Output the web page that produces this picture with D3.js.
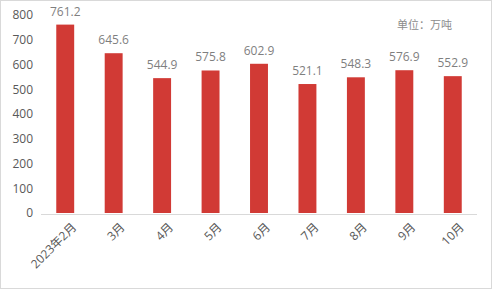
<!DOCTYPE html>
<html>
<head>
<meta charset="utf-8">
<script src="https://cdn.jsdelivr.net/npm/d3@7"></script>
<style>
  body { margin: 0; background: #fff; }
  svg { display: block; font-family: "Open Sans", "Noto Sans CJK SC", sans-serif; }
  .tick-label { fill: #595959; font-size: 12px; }
  .val-label { fill: #7f7f7f; font-size: 12px; }
  .unit { fill: #8c8c8c; font-size: 11px; }
</style>
</head>
<body>
<div id="chart"></div>
<script>
// data
var months = ["2023年2月", "3月", "4月", "5月", "6月", "7月", "8月", "9月", "10月"];
var values = [761.2, 645.6, 544.9, 575.8, 602.9, 521.1, 548.3, 576.9, 552.9];
var yTicks = [0, 100, 200, 300, 400, 500, 600, 700, 800];
var unitText = "单位：万吨";

var W = 492, H = 289;

var svg = d3.select("#chart").append("svg")
  .attr("width", W)
  .attr("height", H);

// outer border
svg.append("rect")
  .attr("x", 0.5).attr("y", 0.5)
  .attr("width", W - 1).attr("height", H - 1)
  .attr("fill", "#fff")
  .attr("stroke", "#d9d9d9");

var x = d3.scaleBand()
  .domain(months)
  .range([41, 477])
  .paddingInner(0.63)
  .paddingOuter(0.315);

var y = d3.scaleLinear()
  .domain([0, 800])
  .range([213, 15]);

// y axis labels (no line)
var yAxis = svg.append("g")
  .attr("transform", "translate(33,0)")
  .call(d3.axisLeft(y).tickValues(yTicks).tickSize(0).tickPadding(0));
yAxis.select(".domain").remove();
yAxis.selectAll("text").attr("class", "tick-label").attr("fill", null).style("font-size", null).style("font-family", null);
yAxis.attr("font-family", null).attr("font-size", null);

// bars
svg.append("g").selectAll("rect")
  .data(values)
  .enter()
  .append("rect")
    .attr("x", function(d, i) { return x(months[i]); })
    .attr("y", function(d) { return y(d); })
    .attr("width", x.bandwidth())
    .attr("height", function(d) { return y(0) - y(d); })
    .attr("fill", "#d13a35");

// value labels
svg.append("g").selectAll("text")
  .data(values)
  .enter()
  .append("text")
    .attr("class", "val-label")
    .attr("text-anchor", "middle")
    .attr("x", function(d, i) { return x(months[i]) + x.bandwidth() / 2; })
    .attr("y", function(d) { return y(d) - 9; })
    .text(function(d) { return d.toFixed(1); });

// x axis line
svg.append("line")
  .attr("x1", 41).attr("x2", 477)
  .attr("y1", 214.5).attr("y2", 214.5)
  .attr("stroke", "#d9d9d9");

// x labels rotated
svg.append("g").selectAll("text")
  .data(months)
  .enter()
  .append("text")
    .attr("class", "tick-label")
    .attr("text-anchor", "end")
    .attr("transform", function(d) {
      var cx = x(d) + x.bandwidth() / 2 + 6;
      return "translate(" + cx + ",222) rotate(-45)";
    })
    .attr("dy", "0.7em")
    .text(function(d) { return d; });

// unit
svg.append("text")
  .attr("class", "unit")
  .attr("x", 397)
  .attr("y", 29)
  .text(unitText);
</script>
</body>
</html>
